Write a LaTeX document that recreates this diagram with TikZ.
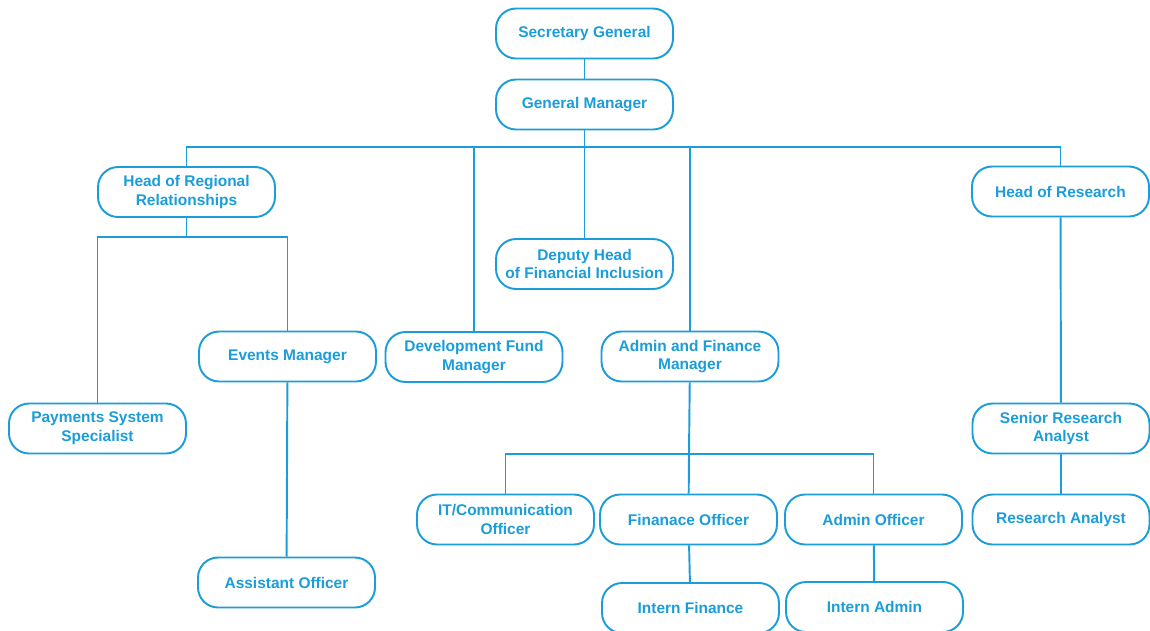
\documentclass[tikz,border=0pt]{standalone}
\usepackage{fontspec}
\setmainfont{Liberation Sans}
\definecolor{orgblue}{RGB}{27,157,217}
\begin{document}
\begin{tikzpicture}[x=0.02cm, y=-0.02cm, line width=1.1pt, draw=orgblue,
    post/.style={draw=orgblue, fill=white, rounded corners=0.4cm, minimum width=3.54cm,
        minimum height=1cm, align=center, text=orgblue,
        font=\bfseries\fontsize{8.8}{10.7}\selectfont, inner sep=1pt}]
\useasboundingbox (0,0) rectangle (1150,630);
% top of the chart
\node[post] (sg) at (584.5,33.5) {Secretary General};
\node[post] (gm) at (584.5,104.5) {General Manager};
\coordinate (bus) at (584.5,147);
% second level
\node[post] (hrr) at (186.5,192) {Head of Regional\\Relationships};
\node[post] (hres) at (1060.5,191.5) {Head of Research};
\node[post] (dep) at (584.5,264) {Deputy Head\\of Financial Inclusion};
\node[post] (em) at (287.5,356.5) {Events Manager};
\node[post] (dfm) at (474,357) {Development Fund\\Manager};
\node[post] (afm) at (690,356.5) {Admin and Finance\\Manager};
% third level
\node[post] (psp) at (97.5,428.5) {Payments System\\Specialist};
\node[post] (sra) at (1061,428.5) {Senior Research\\Analyst};
\node[post] (itc) at (505.5,519.5) {IT/Communication\\Officer};
\node[post] (fo) at (688.5,519.5) {Finanace Officer};
\node[post] (ao) at (873.5,519.5) {Admin Officer};
\node[post] (ra) at (1061,519.5) {Research Analyst};
\node[post] (asst) at (286.5,582.5) {Assistant Officer};
\node[post] (if) at (690.5,608) {Intern Finance};
\node[post] (ia) at (874.5,607) {Intern Admin};
\coordinate (hb) at (186.5,237);
\coordinate (ab) at (689,454);
% connectors
\draw (sg) -- (gm);
\draw (gm) -- (bus);
\draw (hrr.north) |- (bus) -| (hres.north);
\draw (bus) -- (dep);
\draw (dfm.north) |- (bus);
\draw (afm.north) |- (bus);
\draw (hrr) -- (hb);
\draw (psp.north) |- (hb) -| (em.north);
\draw (em) -- (asst);
\draw (afm) -- (ab);
\draw (itc.north) |- (ab) -| (ao.north);
\draw (ab) -- (fo);
\draw (fo) -- (if);
\draw (ao) -- (ia);
\draw (hres) -- (sra);
\draw (sra) -- (ra);
\end{tikzpicture}
\end{document}
